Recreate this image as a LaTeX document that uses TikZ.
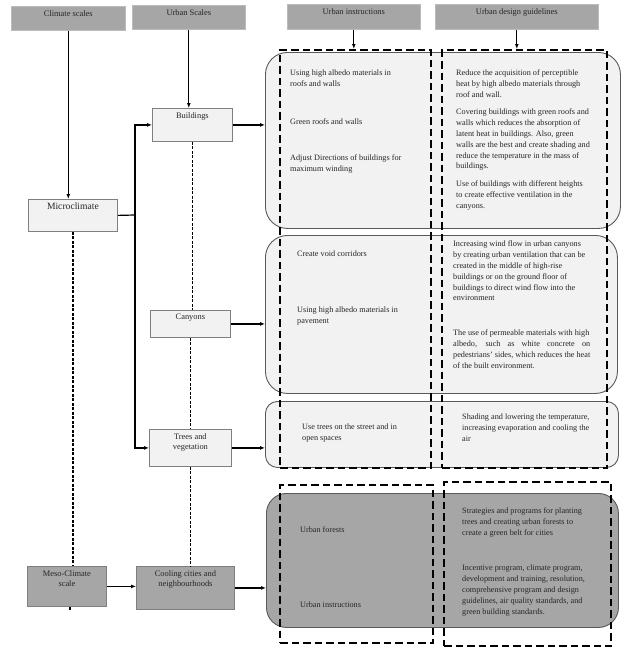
\documentclass[tikz,border=0pt]{standalone}
\usepackage{fontspec}
\setmainfont{Liberation Serif}
\usetikzlibrary{arrows.meta}
\definecolor{headfill}{HTML}{A6A6A6}
\definecolor{paper}{HTML}{F2F2F2}
\definecolor{rim}{HTML}{7F7F7F}
\definecolor{darkrim}{HTML}{595959}
\definecolor{ink}{HTML}{262626}
\begin{document}
\begin{tikzpicture}[x=1pt,y=-1pt,inner sep=0,
  toptext/.style={label={[anchor=north,yshift=-4pt,inner sep=0,align=center,text=ink,font=\fontsize{8.4}{10.6}\selectfont]north:#1}},
  headbox/.style={draw=headfill!75,fill=headfill,line width=0.6pt,anchor=north west,toptext={#1}},
  scalebox/.style={draw=rim,fill=paper,line width=0.8pt,anchor=north west,toptext={#1}},
  panel/.style={draw=darkrim,fill=paper,line width=0.9pt,anchor=north west},
  colbox/.style={draw=black,line width=2.4pt,dash pattern=on 7.5pt off 4pt,anchor=north west},
  note/.style={anchor=north west,align=left,text=ink,font=\fontsize{8.2}{10.8}\selectfont},
  link/.style={draw=black,line width=1.2pt},
  arr/.style={link,-{Latex[length=5pt,width=4pt]}},
  dots/.style={draw=black,line width=1.4pt,dash pattern=on 3pt off 1.5pt}]
\useasboundingbox (0,0) rectangle (628,653);
\node[panel,minimum width=355,minimum height=176,rounded corners=22] (box1) at (265,52) {};
\node[panel,minimum width=352,minimum height=158,rounded corners=22] (box2) at (265,235) {};
\node[panel,minimum width=353,minimum height=66,rounded corners=12] (box3) at (265,401) {};
\node[panel,fill=headfill,minimum width=352,minimum height=134,rounded corners=20] (box4) at (266,493) {};
\node[colbox,minimum width=151,minimum height=418] (ins1) at (279,49) {};
\node[colbox,minimum width=165,minimum height=418] (des1) at (441,49) {};
\node[colbox,minimum width=153,minimum height=158] (ins2) at (279,484) {};
\node[colbox,minimum width=167,minimum height=164] (des2) at (443,481) {};
\node[headbox={Climate scales},minimum width=114,minimum height=24] (clim) at (11,6) {};
\node[headbox={Urban Scales},minimum width=113,minimum height=24] (uscl) at (132,5) {};
\node[headbox={Urban instructions},minimum width=133,minimum height=25] (uins) at (287,4) {};
\node[headbox={Urban design guidelines},minimum width=163,minimum height=25] (udes) at (435,4) {};
\node[scalebox={\fontsize{9.6}{11}\selectfont Microclimate},minimum width=89,minimum height=32] (micro) at (28,199) {};
\node[scalebox={Buildings},minimum width=80,minimum height=33] (bld) at (152,108) {};
\node[scalebox={Canyons},minimum width=80,minimum height=27] (can) at (150,310) {};
\node[scalebox={Trees and\\vegetation},minimum width=82,minimum height=37] (trees) at (149,429) {};
\node[scalebox={Meso-Climate\\scale},fill=headfill,minimum width=79,minimum height=40] (meso) at (27,566) {};
\node[scalebox={Cooling cities and\\neighbourhoods},fill=headfill,minimum width=98,minimum height=43] (cool) at (136,566) {};
\coordinate (jn) at (135,215);
\coordinate (mesoend) at (70,611);
\draw[arr] (clim.south) -- (clim.south |- micro.north);
\draw[arr] (uscl.south) -- (uscl.south |- bld.north);
\draw[arr] (uins.south) -- (uins.south |- ins1.north);
\draw[arr] (udes.south) -- (udes.south |- des1.north);
\draw[link] (micro.east) -- (jn);
\draw[arr] (jn) |- (bld.west);
\draw[arr] (jn) |- (trees.west);
\draw[arr] (bld.east) -- (bld.east -| box1.west);
\draw[arr] (can.east) -- (can.east -| box2.west);
\draw[arr] (trees.east) -- (trees.east -| box3.west);
\draw[arr] (cool.east) -- (cool.east -| box4.west);
\draw[arr] (meso.east) -- (meso.east -| cool.west);
\draw[dots] (micro.south) -- (micro.south |- meso.north);
\draw[dots] (mesoend |- meso.south) -- (mesoend);
\draw[dots] (bld.south) -- (bld.south |- can.north);
\draw[dots] (can.south) -- (can.south |- trees.north);
\draw[dots] (trees.south) -- (trees.south |- cool.north);
\node[note] (t11) at (290,70) {Using high albedo materials in\\roofs and walls};
\node[note] (t12) at (290,119) {Green roofs and walls};
\node[note] (t13) at (290,155) {Adjust Directions of buildings for\\maximum winding};
\node[note] (t14) at (456,70) {Reduce the acquisition of perceptible\\heat by high albedo materials through\\roof and wall.};
\node[note] (t15) at (456,109) {Covering buildings with green roofs and\\walls which reduces the absorption of\\latent heat in buildings. Also, green\\walls are the best and create shading and\\reduce the temperature in the mass of\\buildings.};
\node[note] (t16) at (456,181) {Use of buildings with different heights\\to create effective ventilation in the\\canyons.};
\node[note] (t21) at (297,251) {Create void corridors};
\node[note] (t22) at (297,307) {Using high albedo materials in\\pavement};
\node[note] (t23) at (453,241) {Increasing wind flow in urban canyons\\by creating urban ventilation that can be\\created in the middle of high-rise\\buildings or on the ground floor of\\buildings to direct wind flow into the\\environment};
\node[note] (t24) at (453,330) {The use of permeable materials with high\\\makebox[137pt][s]{albedo, such as white concrete on}\\pedestrians' sides, which reduces the heat\\of the built environment.};
\node[note] (t31) at (302,424) {Use trees on the street and in\\open spaces};
\node[note] (t32) at (462,414) {Shading and lowering the temperature,\\increasing evaporation and cooling the\\air};
\node[note] (t41) at (300,527) {Urban forests};
\node[note] (t42) at (300,602) {Urban instructions};
\node[note] (t43) at (462,508) {Strategies and programs for planting\\trees and creating urban forests to\\create a green belt for cities};
\node[note] (t44) at (462,565) {Incentive program, climate program,\\development and training, resolution,\\comprehensive program and design\\guidelines, air quality standards, and\\green building standards.};
\end{tikzpicture}
\end{document}
